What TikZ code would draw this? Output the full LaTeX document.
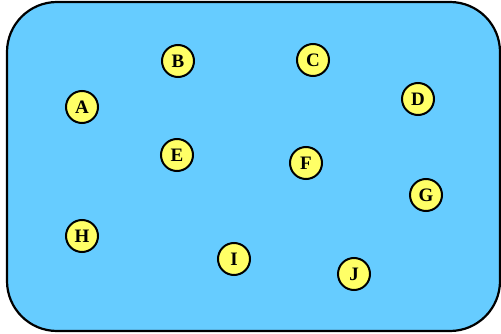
\documentclass[tikz,border=0pt]{standalone}
\usepackage{fontspec}
\setmainfont{Liberation Serif}
\definecolor{skyfill}{HTML}{66CCFF}
\definecolor{nodeyellow}{HTML}{FFFF66}
\begin{document}
\begin{tikzpicture}[x=1pt,y=-1pt,
  vtx/.style={circle,draw=black,line width=2pt,fill=nodeyellow,minimum size=32pt,inner sep=0pt,font=\fontsize{19}{19}\selectfont\bfseries}]
\useasboundingbox (0,0) rectangle (501,334);
\draw[fill=skyfill,line width=2.2pt,rounded corners=50pt] (7,2) rectangle (500,331);
\node[vtx] (A) at (82,107) {A};
\node[vtx] (B) at (178,61) {B};
\node[vtx] (C) at (313,60) {C};
\node[vtx] (D) at (418,99) {D};
\node[vtx] (E) at (177,155) {E};
\node[vtx] (F) at (306,163) {F};
\node[vtx] (G) at (426,195) {G};
\node[vtx] (H) at (82,236) {H};
\node[vtx] (I) at (234,259) {I};
\node[vtx] (J) at (354,274) {J};
\end{tikzpicture}
\end{document}
